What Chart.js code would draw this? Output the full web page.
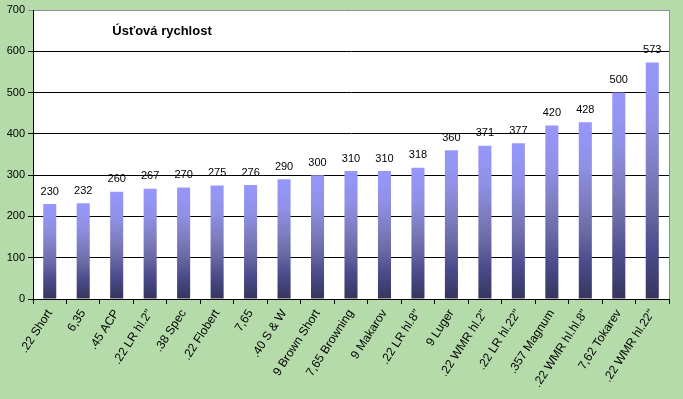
<!DOCTYPE html>
<html>
<head>
<meta charset="utf-8">
<script src="https://cdn.jsdelivr.net/npm/chart.js@4"></script>
<style>
  html, body { margin: 0; padding: 0; background: #b6dbab; }
  #wrap { width: 683px; height: 399px; }
</style>
</head>
<body>
<div id="wrap"><canvas id="myChart"></canvas></div>
<script>
// Data
const cartridges = ['.22 Short', '6,35', '.45 ACP', '.22 LR hl.2"', '.38 Spec', '.22 Flobert', '7,65',
    '.40 S & W', '9 Brown Short', '7,65 Browning', '9 Makarov', '.22 LR hl.8"', '9 Luger',
    '.22 WMR hl.2"', '.22 LR hl.22"', '.357 Magnum', '.22 WMR hl.hl.8"', '7,62 Tokarev', '.22 WMR hl.22"'];
const velocities = [230, 232, 260, 267, 270, 275, 276, 290, 300, 310, 310, 318, 360, 371, 377, 420, 428, 500, 573];
const yTicks = [0, 100, 200, 300, 400, 500, 600, 700];
const chartTitle = 'Úsťová rychlost';

const font = 'Liberation Sans, Arial, sans-serif';

// white plot area, gradient bars, value labels, title
const excelLook = {
    id: 'excelLook',
    beforeDraw(chart) {
        const a = chart.chartArea;
        const c = chart.ctx;
        c.save();
        c.fillStyle = '#ffffff';
        c.fillRect(a.left, a.top, a.right - a.left, a.bottom - a.top);
        c.restore();
    },
    beforeDatasetsDraw(chart) {
        const c = chart.ctx;
        chart.getDatasetMeta(0).data.forEach(bar => {
            const g = c.createLinearGradient(0, bar.y, 0, bar.base);
            g.addColorStop(0, '#9797fc');
            g.addColorStop(0.25, '#9090e6');
            g.addColorStop(0.48, '#7b7bbc');
            g.addColorStop(0.62, '#6a6aa6');
            g.addColorStop(0.8, '#4b4b8c');
            g.addColorStop(1, '#36365e');
            // options are shared between bars, so give each its own copy
            bar.options = Object.assign({}, bar.options, { backgroundColor: g });
        });
    },
    afterDatasetsDraw(chart) {
        const c = chart.ctx;
        const a = chart.chartArea;
        c.save();
        c.font = '11px ' + font;
        c.fillStyle = '#000';
        c.textAlign = 'center';
        c.textBaseline = 'bottom';
        chart.getDatasetMeta(0).data.forEach((bar, i) => {
            c.fillText(velocities[i], bar.x, bar.y - 7);
        });
        // right border
        c.strokeStyle = '#8c8c9c';
        c.lineWidth = 1;
        c.beginPath();
        c.moveTo(a.right + 0.5, a.top);
        c.lineTo(a.right + 0.5, a.bottom);
        c.stroke();
        // title
        c.font = 'bold 13px ' + font;
        c.textBaseline = 'middle';
        c.fillText(chartTitle, 162, 31);
        c.restore();
    }
};

const ctx = document.getElementById('myChart').getContext('2d');

const myChart = new Chart(ctx, {
    type: 'bar',
    data: {
        labels: cartridges,
        datasets: [{
            data: velocities,
            backgroundColor: '#7d7db8',
            borderWidth: 0,
            categoryPercentage: 1,
            barPercentage: 0.39
        }]
    },
    options: {
        responsive: true,
        maintainAspectRatio: false,
        animation: false,
        layout: { padding: { top: 10, right: 14, left: 0, bottom: 0 } },
        plugins: {
            legend: { display: false },
            tooltip: { enabled: false }
        },
        scales: {
            x: {
                grid: { drawOnChartArea: false, drawTicks: true, tickLength: 5, color: '#000', offset: true },
                border: { color: '#000' },
                ticks: {
                    color: '#000',
                    font: { family: font, size: 12 },
                    minRotation: 57,
                    maxRotation: 57,
                    autoSkip: false,
                    padding: 3
                },
                afterFit(scale) { scale.height = 100; }
            },
            y: {
                min: 0,
                max: 700,
                afterBuildTicks(scale) { scale.ticks = yTicks.map(v => ({ value: v })); },
                grid: {
                    color: c => (c.tick && c.tick.value === 700) ? '#8c8c9c' : '#000',
                    lineWidth: 1,
                    tickLength: 5
                },
                border: { color: '#000' },
                ticks: {
                    color: '#000',
                    font: { family: font, size: 11 },
                    padding: 3
                },
                afterFit(scale) { scale.width = 33; }
            }
        }
    },
    plugins: [excelLook]
});
</script>
</body>
</html>
